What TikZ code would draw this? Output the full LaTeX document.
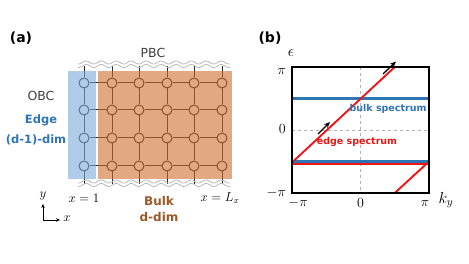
\RequirePackage{fix-cm}
\documentclass[tikz,border=0pt]{standalone}
\usepackage{fontspec}
\newfontfamily\labfont{DejaVu Sans}
\usetikzlibrary{arrows.meta}
\definecolor{latline}{RGB}{40,40,40}
\definecolor{wavegray}{RGB}{185,185,185}
\definecolor{edgefill}{RGB}{121,172,217}
\definecolor{bulkfill}{RGB}{206,110,47}
\definecolor{edgeblue}{RGB}{46,117,182}
\definecolor{bulkbrown}{RGB}{156,87,38}
\definecolor{specred}{RGB}{240,20,20}
\definecolor{obcgray}{RGB}{64,64,64}
\begin{document}
\begin{tikzpicture}[x=1pt,y=-1pt,
  lat/.style={draw=latline, line width=1pt},
  site/.style={circle, draw=latline, fill=white, line width=1pt, minimum size=10pt, inner sep=0pt},
  wave/.style={draw=wavegray, line width=0.8pt},
  plain/.style={font=\labfont\fontsize{12.5}{14}\selectfont, text=obcgray, inner sep=0pt},
  boldlab/.style={font=\labfont\bfseries\fontsize{11.5}{14}\selectfont, inner sep=0pt},
  panel/.style={font=\labfont\bfseries\fontsize{14}{16}\selectfont, inner sep=0pt},
  mathlab/.style={font=\fontsize{13}{15}\selectfont, inner sep=0pt},
  ticklab/.style={font=\fontsize{14}{16}\selectfont, inner sep=0pt},
  biglab/.style={font=\fontsize{16}{18}\selectfont, inner sep=0pt},
  speclab/.style={font=\labfont\bfseries\fontsize{9.5}{11}\selectfont, inner sep=0pt},
  blueline/.style={draw=edgeblue, line width=2.4pt},
  redline/.style={draw=specred, line width=1.9pt},
  guide/.style={draw=gray!60, dashed, line width=0.6pt},
  flow/.style={-{Stealth[length=6pt,width=5pt]}, line width=1.3pt},
]
\useasboundingbox (0,0) rectangle (469,264);

% ---------- panel (a) ----------
\foreach \c/\x in {1/84,2/112,3/139,4/167,5/194,6/222} {
  \foreach \r/\y in {1/83,2/110,3/138,4/166} {
    \node[site] (s\c\r) at (\x,\y) {};
  }
  \coordinate (t\c) at (\x,66);
  \coordinate (b\c) at (\x,184);
}
\foreach \c in {1,...,6} {
  \draw[lat] (t\c) -- (s\c1) -- (s\c2) -- (s\c3) -- (s\c4) -- (b\c);
}
\foreach \r in {1,...,4} {
  \draw[lat] (s1\r) -- (s2\r) -- (s3\r) -- (s4\r) -- (s5\r) -- (s6\r);
}
\fill[edgefill, fill opacity=0.6] (68,71) rectangle (96,179);
\fill[bulkfill, fill opacity=0.6] (98,71) rectangle (232,179);

\draw[wave] plot[domain=78:230, samples=150, smooth] (\x,{62.5+1.5*sin(24*\x)});
\draw[wave] plot[domain=78:230, samples=150, smooth] (\x,{66+1.5*sin(24*\x)});
\draw[wave] plot[domain=78:230, samples=150, smooth] (\x,{181.5+1.5*sin(24*\x)});
\draw[wave] plot[domain=78:230, samples=150, smooth] (\x,{185+1.5*sin(24*\x)});

\node[panel] (pa) at (21,38) {(a)};
\node[plain] (pbc) at (153,53) {PBC};
\node[plain] (obc) at (41,96) {OBC};
\node[boldlab, text=edgeblue] (edge) at (41,120) {Edge};
\node[boldlab, text=edgeblue] (edim) at (36,140) {(d-1)-dim};
\node[boldlab, text=bulkbrown, font=\labfont\bfseries\fontsize{12}{14}\selectfont] (bulk) at (159,201) {Bulk};
\node[boldlab, text=bulkbrown, font=\labfont\bfseries\fontsize{12}{14}\selectfont] (bdim) at (159,217) {d-dim};
\node[mathlab] (x1) at (84,198) {$x=1$};
\node[mathlab] (xl) at (220,198) {$x=L_x$};

\coordinate (ax0) at (43,220);
\coordinate (axy) at (43,204);
\coordinate (axx) at (60,220);
\draw[-{Stealth[length=4pt,width=3.5pt]}, line width=0.7pt] (ax0) -- (axy);
\draw[-{Stealth[length=4pt,width=3.5pt]}, line width=0.7pt] (ax0) -- (axx);
\node[mathlab] (ylab) at (43,196) {$y$};
\node[mathlab] (xlab) at (67,219) {$x$};

% ---------- panel (b) ----------
\draw[guide] (360.5,67) -- (360.5,193);
\draw[guide] (292,130) -- (429,130);
\draw[blueline] (292,98.5) -- (429,98.5);
\draw[blueline] (292,161.5) -- (429,161.5);
\draw[redline] (292,164) -- (429,164);
\draw[redline] (292,162.5) -- (394.75,67);
\draw[redline] (394.75,193) -- (429,161.5);
\draw[line width=1.2pt] (292,67) rectangle (429,193);

\draw[flow] (383,74) -- (396,61.5);
\draw[flow] (318,134) -- (330,122);

\node[speclab, text=edgeblue] (bs) at (388,109) {bulk spectrum};
\node[speclab, text=specred] (es) at (357,142) {edge spectrum};

\node[panel] (pb) at (270,38) {(b)};
\node[biglab] (eps) at (291,53) {$\epsilon$};
\node[ticklab, anchor=east] (tpi) at (286,71) {$\pi$};
\node[ticklab, anchor=east] (tz) at (286,129) {$0$};
\node[ticklab, anchor=east] (tmpi) at (286,193) {$-\pi$};
\node[ticklab] (kmpi) at (298,203) {$-\pi$};
\node[ticklab] (kz) at (360.5,203) {$0$};
\node[ticklab] (kpi) at (425,203) {$\pi$};
\node[biglab] (ky) at (446,200) {$k_y$};
\end{tikzpicture}
\end{document}
